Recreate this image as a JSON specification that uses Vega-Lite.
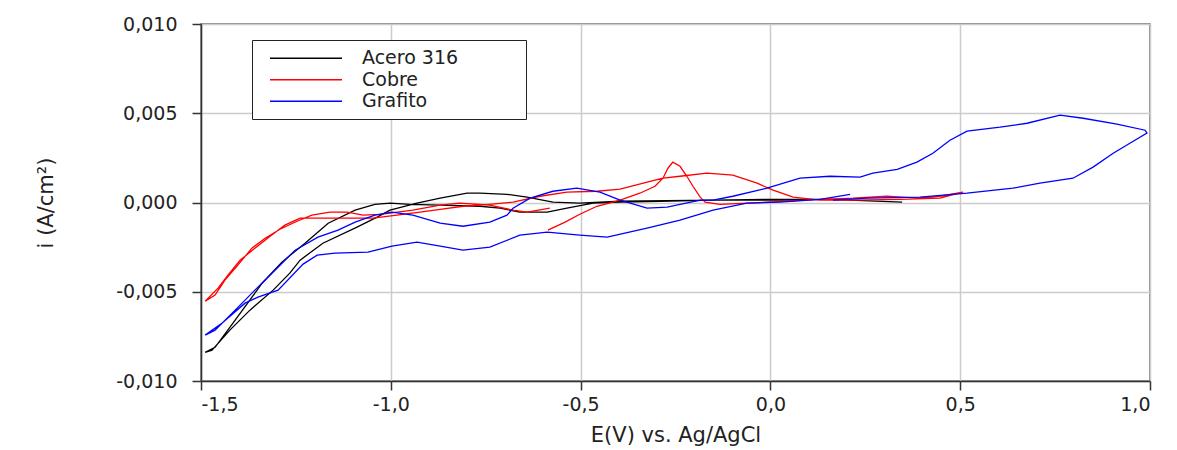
{
  "$schema": "https://vega.github.io/schema/vega-lite/v6.json",
  "width": 949,
  "height": 357,
  "autosize": {"type": "none"},
  "padding": {"left": 201, "top": 24, "right": 27, "bottom": 69},
  "background": "white",
  "config": {
    "font": "DejaVu Sans",
    "view": {"stroke": "#666666", "strokeWidth": 1.5},
    "axis": {
      "domainColor": "#333333",
      "domainWidth": 1.5,
      "tickColor": "#333333",
      "tickWidth": 1.5,
      "tickSize": 9,
      "gridColor": "#cccccc",
      "gridWidth": 1.5,
      "labelFont": "DejaVu Sans",
      "labelFontSize": 19,
      "labelColor": "#222222",
      "titleFont": "DejaVu Sans",
      "titleFontWeight": "normal",
      "titleFontSize": 21,
      "titleColor": "#222222"
    }
  },
  "data": {
    "values": [
      {"s": "Acero 316", "o": 1, "E": 0.347, "i": 0.00002},
      {"s": "Acero 316", "o": 2, "E": 0.157, "i": 0.00018},
      {"s": "Acero 316", "o": 3, "E": 0.0, "i": 0.00018},
      {"s": "Acero 316", "o": 4, "E": -0.151, "i": 0.00013},
      {"s": "Acero 316", "o": 5, "E": -0.291, "i": 0.00007},
      {"s": "Acero 316", "o": 6, "E": -0.396, "i": 0.00002},
      {"s": "Acero 316", "o": 7, "E": -0.467, "i": -0.00004},
      {"s": "Acero 316", "o": 8, "E": -0.536, "i": -0.00032},
      {"s": "Acero 316", "o": 9, "E": -0.588, "i": -0.00054},
      {"s": "Acero 316", "o": 10, "E": -0.66, "i": -0.00054},
      {"s": "Acero 316", "o": 11, "E": -0.712, "i": -0.00032},
      {"s": "Acero 316", "o": 12, "E": -0.765, "i": -0.00021},
      {"s": "Acero 316", "o": 13, "E": -0.87, "i": -0.00015},
      {"s": "Acero 316", "o": 14, "E": -0.949, "i": -0.0001},
      {"s": "Acero 316", "o": 15, "E": -1.002, "i": -0.00004},
      {"s": "Acero 316", "o": 16, "E": -1.042, "i": -0.0001},
      {"s": "Acero 316", "o": 17, "E": -1.094, "i": -0.00043},
      {"s": "Acero 316", "o": 18, "E": -1.165, "i": -0.00116},
      {"s": "Acero 316", "o": 19, "E": -1.226, "i": -0.00228},
      {"s": "Acero 316", "o": 20, "E": -1.287, "i": -0.00334},
      {"s": "Acero 316", "o": 21, "E": -1.339, "i": -0.00452},
      {"s": "Acero 316", "o": 22, "E": -1.41, "i": -0.00659},
      {"s": "Acero 316", "o": 23, "E": -1.463, "i": -0.00811},
      {"s": "Acero 316", "o": 24, "E": -1.489, "i": -0.00839},
      {"s": "Acero 316", "o": 25, "E": -1.471, "i": -0.00827},
      {"s": "Acero 316", "o": 26, "E": -1.424, "i": -0.00715},
      {"s": "Acero 316", "o": 27, "E": -1.371, "i": -0.00603},
      {"s": "Acero 316", "o": 28, "E": -1.31, "i": -0.00491},
      {"s": "Acero 316", "o": 29, "E": -1.266, "i": -0.00396},
      {"s": "Acero 316", "o": 30, "E": -1.239, "i": -0.00323},
      {"s": "Acero 316", "o": 31, "E": -1.179, "i": -0.00228},
      {"s": "Acero 316", "o": 32, "E": -1.089, "i": -0.00138},
      {"s": "Acero 316", "o": 33, "E": -1.036, "i": -0.00082},
      {"s": "Acero 316", "o": 34, "E": -1.002, "i": -0.00043},
      {"s": "Acero 316", "o": 35, "E": -0.931, "i": -0.00004},
      {"s": "Acero 316", "o": 36, "E": -0.87, "i": 0.00024},
      {"s": "Acero 316", "o": 37, "E": -0.799, "i": 0.00052},
      {"s": "Acero 316", "o": 38, "E": -0.765, "i": 0.00052},
      {"s": "Acero 316", "o": 39, "E": -0.694, "i": 0.00046},
      {"s": "Acero 316", "o": 40, "E": -0.641, "i": 0.0003},
      {"s": "Acero 316", "o": 41, "E": -0.573, "i": 0.00002},
      {"s": "Acero 316", "o": 42, "E": -0.502, "i": -0.00004},
      {"s": "Acero 316", "o": 43, "E": -0.396, "i": 0.00007},
      {"s": "Acero 316", "o": 44, "E": -0.151, "i": 0.00013},
      {"s": "Acero 316", "o": 45, "E": 0.078, "i": 0.00013},

      {"s": "Cobre", "o": 1, "E": -0.586, "i": -0.00155},
      {"s": "Cobre", "o": 2, "E": -0.541, "i": -0.0011},
      {"s": "Cobre", "o": 3, "E": -0.502, "i": -0.00066},
      {"s": "Cobre", "o": 4, "E": -0.457, "i": -0.00021},
      {"s": "Cobre", "o": 5, "E": -0.396, "i": 0.00013},
      {"s": "Cobre", "o": 6, "E": -0.344, "i": 0.00052},
      {"s": "Cobre", "o": 7, "E": -0.304, "i": 0.00091},
      {"s": "Cobre", "o": 8, "E": -0.283, "i": 0.00136},
      {"s": "Cobre", "o": 9, "E": -0.27, "i": 0.00192},
      {"s": "Cobre", "o": 10, "E": -0.257, "i": 0.00226},
      {"s": "Cobre", "o": 11, "E": -0.238, "i": 0.00203},
      {"s": "Cobre", "o": 12, "E": -0.22, "i": 0.00147},
      {"s": "Cobre", "o": 13, "E": -0.204, "i": 0.00091},
      {"s": "Cobre", "o": 14, "E": -0.185, "i": 0.0003},
      {"s": "Cobre", "o": 15, "E": -0.172, "i": 0.00002},
      {"s": "Cobre", "o": 16, "E": -0.133, "i": -0.0001},
      {"s": "Cobre", "o": 17, "E": -0.009, "i": 0.00002},
      {"s": "Cobre", "o": 18, "E": 0.131, "i": 0.00018},
      {"s": "Cobre", "o": 19, "E": 0.218, "i": 0.00024},
      {"s": "Cobre", "o": 20, "E": 0.307, "i": 0.00035},
      {"s": "Cobre", "o": 21, "E": 0.386, "i": 0.00024},
      {"s": "Cobre", "o": 22, "E": 0.447, "i": 0.00035},
      {"s": "Cobre", "o": 23, "E": 0.507, "i": 0.00058},
      {"s": "Cobre", "o": 24, "E": 0.447, "i": 0.00024},
      {"s": "Cobre", "o": 25, "E": 0.341, "i": 0.00018},
      {"s": "Cobre", "o": 26, "E": 0.218, "i": 0.00013},
      {"s": "Cobre", "o": 27, "E": 0.131, "i": 0.00013},
      {"s": "Cobre", "o": 28, "E": 0.06, "i": 0.0003},
      {"s": "Cobre", "o": 29, "E": 0.007, "i": 0.00069},
      {"s": "Cobre", "o": 30, "E": -0.035, "i": 0.00108},
      {"s": "Cobre", "o": 31, "E": -0.099, "i": 0.00153},
      {"s": "Cobre", "o": 32, "E": -0.167, "i": 0.00164},
      {"s": "Cobre", "o": 33, "E": -0.238, "i": 0.00147},
      {"s": "Cobre", "o": 34, "E": -0.283, "i": 0.00136},
      {"s": "Cobre", "o": 35, "E": -0.317, "i": 0.00119},
      {"s": "Cobre", "o": 36, "E": -0.396, "i": 0.00075},
      {"s": "Cobre", "o": 37, "E": -0.457, "i": 0.00063},
      {"s": "Cobre", "o": 38, "E": -0.536, "i": 0.00058},
      {"s": "Cobre", "o": 39, "E": -0.607, "i": 0.00035},
      {"s": "Cobre", "o": 40, "E": -0.678, "i": 0.00002},
      {"s": "Cobre", "o": 41, "E": -0.739, "i": -0.0001},
      {"s": "Cobre", "o": 42, "E": -0.81, "i": -0.00021},
      {"s": "Cobre", "o": 43, "E": -0.87, "i": -0.00038},
      {"s": "Cobre", "o": 44, "E": -0.923, "i": -0.00054},
      {"s": "Cobre", "o": 45, "E": -0.984, "i": -0.00071},
      {"s": "Cobre", "o": 46, "E": -1.047, "i": -0.00088},
      {"s": "Cobre", "o": 47, "E": -1.134, "i": -0.00088},
      {"s": "Cobre", "o": 48, "E": -1.239, "i": -0.00088},
      {"s": "Cobre", "o": 49, "E": -1.279, "i": -0.00127},
      {"s": "Cobre", "o": 50, "E": -1.318, "i": -0.00189},
      {"s": "Cobre", "o": 51, "E": -1.358, "i": -0.00256},
      {"s": "Cobre", "o": 52, "E": -1.397, "i": -0.00323},
      {"s": "Cobre", "o": 53, "E": -1.429, "i": -0.00407},
      {"s": "Cobre", "o": 54, "E": -1.455, "i": -0.0048},
      {"s": "Cobre", "o": 55, "E": -1.489, "i": -0.00553},
      {"s": "Cobre", "o": 56, "E": -1.463, "i": -0.00519},
      {"s": "Cobre", "o": 57, "E": -1.437, "i": -0.00435},
      {"s": "Cobre", "o": 58, "E": -1.403, "i": -0.00351},
      {"s": "Cobre", "o": 59, "E": -1.366, "i": -0.00256},
      {"s": "Cobre", "o": 60, "E": -1.331, "i": -0.002},
      {"s": "Cobre", "o": 61, "E": -1.292, "i": -0.0015},
      {"s": "Cobre", "o": 62, "E": -1.247, "i": -0.00105},
      {"s": "Cobre", "o": 63, "E": -1.208, "i": -0.00071},
      {"s": "Cobre", "o": 64, "E": -1.16, "i": -0.00054},
      {"s": "Cobre", "o": 65, "E": -1.115, "i": -0.00054},
      {"s": "Cobre", "o": 66, "E": -1.073, "i": -0.00071},
      {"s": "Cobre", "o": 67, "E": -1.028, "i": -0.00066},
      {"s": "Cobre", "o": 68, "E": -0.942, "i": -0.00043},
      {"s": "Cobre", "o": 69, "E": -0.87, "i": -0.00015},
      {"s": "Cobre", "o": 70, "E": -0.818, "i": -0.00004},
      {"s": "Cobre", "o": 71, "E": -0.739, "i": -0.00015},
      {"s": "Cobre", "o": 72, "E": -0.678, "i": -0.00043},
      {"s": "Cobre", "o": 73, "E": -0.641, "i": -0.00054},
      {"s": "Cobre", "o": 74, "E": -0.581, "i": -0.00032},

      {"s": "Grafito", "o": 1, "E": 0.165, "i": 0.00013},
      {"s": "Grafito", "o": 2, "E": 0.255, "i": 0.00024},
      {"s": "Grafito", "o": 3, "E": 0.394, "i": 0.0003},
      {"s": "Grafito", "o": 4, "E": 0.518, "i": 0.00052},
      {"s": "Grafito", "o": 5, "E": 0.639, "i": 0.0008},
      {"s": "Grafito", "o": 6, "E": 0.71, "i": 0.00108},
      {"s": "Grafito", "o": 7, "E": 0.797, "i": 0.00136},
      {"s": "Grafito", "o": 8, "E": 0.85, "i": 0.00198},
      {"s": "Grafito", "o": 9, "E": 0.903, "i": 0.00276},
      {"s": "Grafito", "o": 10, "E": 0.947, "i": 0.00332},
      {"s": "Grafito", "o": 11, "E": 0.992, "i": 0.00389},
      {"s": "Grafito", "o": 12, "E": 0.987, "i": 0.00405},
      {"s": "Grafito", "o": 13, "E": 0.913, "i": 0.00439},
      {"s": "Grafito", "o": 14, "E": 0.824, "i": 0.00472},
      {"s": "Grafito", "o": 15, "E": 0.763, "i": 0.00489},
      {"s": "Grafito", "o": 16, "E": 0.676, "i": 0.00444},
      {"s": "Grafito", "o": 17, "E": 0.605, "i": 0.00422},
      {"s": "Grafito", "o": 18, "E": 0.518, "i": 0.004},
      {"s": "Grafito", "o": 19, "E": 0.473, "i": 0.00349},
      {"s": "Grafito", "o": 20, "E": 0.428, "i": 0.00276},
      {"s": "Grafito", "o": 21, "E": 0.386, "i": 0.00226},
      {"s": "Grafito", "o": 22, "E": 0.334, "i": 0.00186},
      {"s": "Grafito", "o": 23, "E": 0.27, "i": 0.00164},
      {"s": "Grafito", "o": 24, "E": 0.236, "i": 0.00142},
      {"s": "Grafito", "o": 25, "E": 0.157, "i": 0.00147},
      {"s": "Grafito", "o": 26, "E": 0.078, "i": 0.00136},
      {"s": "Grafito", "o": 27, "E": -0.009, "i": 0.0008},
      {"s": "Grafito", "o": 28, "E": -0.099, "i": 0.00035},
      {"s": "Grafito", "o": 29, "E": -0.151, "i": 0.00013},
      {"s": "Grafito", "o": 30, "E": -0.185, "i": 0.00013},
      {"s": "Grafito", "o": 31, "E": -0.272, "i": -0.00026},
      {"s": "Grafito", "o": 32, "E": -0.325, "i": -0.00032},
      {"s": "Grafito", "o": 33, "E": -0.396, "i": 0.00013},
      {"s": "Grafito", "o": 34, "E": -0.449, "i": 0.00058},
      {"s": "Grafito", "o": 35, "E": -0.51, "i": 0.0008},
      {"s": "Grafito", "o": 36, "E": -0.573, "i": 0.00063},
      {"s": "Grafito", "o": 37, "E": -0.633, "i": 0.00024},
      {"s": "Grafito", "o": 38, "E": -0.678, "i": -0.00032},
      {"s": "Grafito", "o": 39, "E": -0.694, "i": -0.00071},
      {"s": "Grafito", "o": 40, "E": -0.739, "i": -0.0011},
      {"s": "Grafito", "o": 41, "E": -0.81, "i": -0.00133},
      {"s": "Grafito", "o": 42, "E": -0.87, "i": -0.00116},
      {"s": "Grafito", "o": 43, "E": -0.942, "i": -0.00071},
      {"s": "Grafito", "o": 44, "E": -0.997, "i": -0.00054},
      {"s": "Grafito", "o": 45, "E": -1.042, "i": -0.00071},
      {"s": "Grafito", "o": 46, "E": -1.094, "i": -0.0011},
      {"s": "Grafito", "o": 47, "E": -1.139, "i": -0.00155},
      {"s": "Grafito", "o": 48, "E": -1.192, "i": -0.00194},
      {"s": "Grafito", "o": 49, "E": -1.252, "i": -0.00267},
      {"s": "Grafito", "o": 50, "E": -1.313, "i": -0.00396},
      {"s": "Grafito", "o": 51, "E": -1.358, "i": -0.00491},
      {"s": "Grafito", "o": 52, "E": -1.41, "i": -0.00603},
      {"s": "Grafito", "o": 53, "E": -1.463, "i": -0.00715},
      {"s": "Grafito", "o": 54, "E": -1.489, "i": -0.00743},
      {"s": "Grafito", "o": 55, "E": -1.445, "i": -0.00676},
      {"s": "Grafito", "o": 56, "E": -1.384, "i": -0.00564},
      {"s": "Grafito", "o": 57, "E": -1.35, "i": -0.0053},
      {"s": "Grafito", "o": 58, "E": -1.297, "i": -0.00491},
      {"s": "Grafito", "o": 59, "E": -1.231, "i": -0.00345},
      {"s": "Grafito", "o": 60, "E": -1.194, "i": -0.00295},
      {"s": "Grafito", "o": 61, "E": -1.147, "i": -0.00284},
      {"s": "Grafito", "o": 62, "E": -1.06, "i": -0.00278},
      {"s": "Grafito", "o": 63, "E": -0.997, "i": -0.00245},
      {"s": "Grafito", "o": 64, "E": -0.931, "i": -0.00222},
      {"s": "Grafito", "o": 65, "E": -0.87, "i": -0.00245},
      {"s": "Grafito", "o": 66, "E": -0.81, "i": -0.00267},
      {"s": "Grafito", "o": 67, "E": -0.739, "i": -0.0025},
      {"s": "Grafito", "o": 68, "E": -0.66, "i": -0.00183},
      {"s": "Grafito", "o": 69, "E": -0.588, "i": -0.00166},
      {"s": "Grafito", "o": 70, "E": -0.502, "i": -0.00183},
      {"s": "Grafito", "o": 71, "E": -0.43, "i": -0.00194},
      {"s": "Grafito", "o": 72, "E": -0.325, "i": -0.00144},
      {"s": "Grafito", "o": 73, "E": -0.238, "i": -0.00099},
      {"s": "Grafito", "o": 74, "E": -0.151, "i": -0.00043},
      {"s": "Grafito", "o": 75, "E": -0.062, "i": -0.00004},
      {"s": "Grafito", "o": 76, "E": 0.025, "i": 0.00002},
      {"s": "Grafito", "o": 77, "E": 0.131, "i": 0.00018},
      {"s": "Grafito", "o": 78, "E": 0.21, "i": 0.00046}
    ]
  },
  "mark": {"type": "line", "strokeWidth": 1.3, "clip": true},
  "encoding": {
    "x": {
      "field": "E",
      "type": "quantitative",
      "scale": {"domain": [-1.5, 1.0], "nice": false, "zero": false},
      "axis": {
        "values": [-1.5, -1.0, -0.5, 0.0, 0.5, 1.0],
        "labelExpr": "replace(replace(format(datum.value, '.1f'), '.', ','), '\u2212', '-')",
        "labelPadding": 5,
        "title": "E(V) vs. Ag/AgCl",
        "titlePadding": 10
      }
    },
    "y": {
      "field": "i",
      "type": "quantitative",
      "scale": {"domain": [-0.01, 0.01], "nice": false, "zero": false},
      "axis": {
        "values": [-0.01, -0.005, 0, 0.005, 0.01],
        "labelExpr": "replace(replace(format(datum.value, '.3f'), '.', ','), '\u2212', '-')",
        "labelPadding": 15,
        "title": "i (A/cm²)",
        "titleX": -145
      }
    },
    "order": {"field": "o", "type": "quantitative"},
    "color": {
      "field": "s",
      "type": "nominal",
      "scale": {"domain": ["Acero 316", "Cobre", "Grafito"], "range": ["#000000", "#ff0000", "#0000ff"]},
      "legend": {
        "title": null,
        "orient": "none",
        "legendX": 51,
        "legendY": 16,
        "padding": 8,
        "strokeColor": "#222222",
        "fillColor": "white",
        "symbolType": "M0,0.02H8M27.2,0.02",
        "symbolSize": 324,
        "symbolStrokeWidth": 1.4,
        "labelOffset": 82,
        "labelFont": "DejaVu Sans",
        "labelFontSize": 19,
        "labelColor": "#222222",
        "labelLimit": 400,
        "rowPadding": 1.5
      }
    }
  }
}
